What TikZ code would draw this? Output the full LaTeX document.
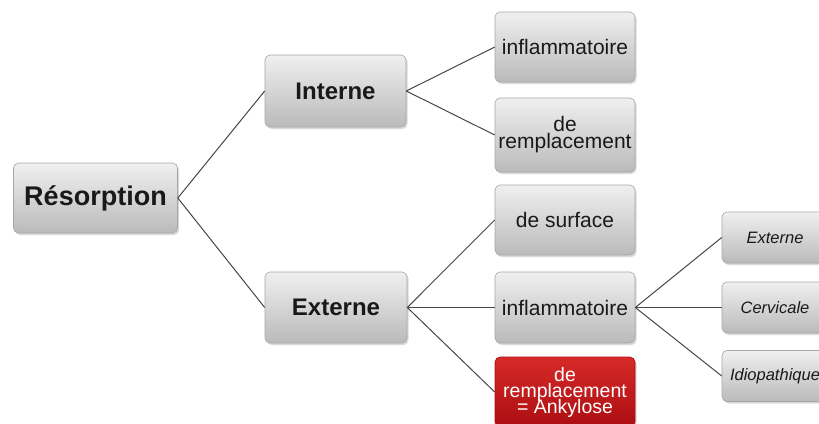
\documentclass[tikz,border=0pt]{standalone}
\usepackage{fontspec}
\setmainfont{Liberation Sans}
\usetikzlibrary{shadows}
\definecolor{redtop}{RGB}{214,42,40}
\definecolor{redbot}{RGB}{172,14,18}
\definecolor{linkgray}{RGB}{70,70,70}
\newcommand\tightlines{\setlength{\lineskiplimit}{-30pt}}

\begin{document}
\begin{tikzpicture}[x=1pt,y=-1pt,
    box/.style={draw=black!35, line width=0.6pt, rounded corners=5pt,
      top color=black!6, bottom color=black!27,
      drop shadow={opacity=0.3,shadow xshift=1.5pt,shadow yshift=-2pt},
      minimum width=140pt, minimum height=70pt, inner sep=1pt,
      align=center, text=black!90},
    big/.style={box, font=\fontsize{24}{26}\selectfont\bfseries},
    mid/.style={box, font=\fontsize{21}{17}\selectfont\tightlines},
    small/.style={box, minimum width=106pt, minimum height=51pt,
      font=\fontsize{16.5}{18}\selectfont\itshape},
    link/.style={draw=linkgray, line width=1pt}]
  \useasboundingbox (0,0) rectangle (819,423);
    \node[big, minimum width=164pt, font=\fontsize{27}{29}\selectfont\bfseries] (res) at (95.5,198) {Résorption};
    \node[big, minimum width=141pt, minimum height=72pt] (int) at (335.5,91) {Interne};
    \node[big, minimum width=142pt, minimum height=71pt] (ext) at (336,307.5) {Externe};
    \node[mid] (intinf) at (565,47) {inflammatoire};
    \node[mid, minimum height=74pt] (intrem) at (565,135) {de\\remplacement};
    \node[mid] (extsurf) at (565,220) {de surface};
    \node[mid, minimum height=71pt] (extinf) at (565,307.5) {inflammatoire};
    \node[mid, top color=redtop, bottom color=redbot, draw=redbot, text=white,
      font=\fontsize{19.5}{16}\selectfont\tightlines] (extrem) at (565,392) {de\\remplacement\\= Ankylose};
    \node[small] (infext) at (775,237.5) {Externe};
    \node[small] (infcerv) at (775,307.5) {Cervicale};
    \node[small] (infidio) at (775,376) {Idiopathique};
  % liaisons
  \foreach \a/\b in {res/int, res/ext, int/intinf, int/intrem,
      ext/extsurf, ext/extinf, ext/extrem,
      extinf/infext, extinf/infcerv, extinf/infidio}
    \draw[link] (\a.east) -- (\b.west);
\end{tikzpicture}
\end{document}
